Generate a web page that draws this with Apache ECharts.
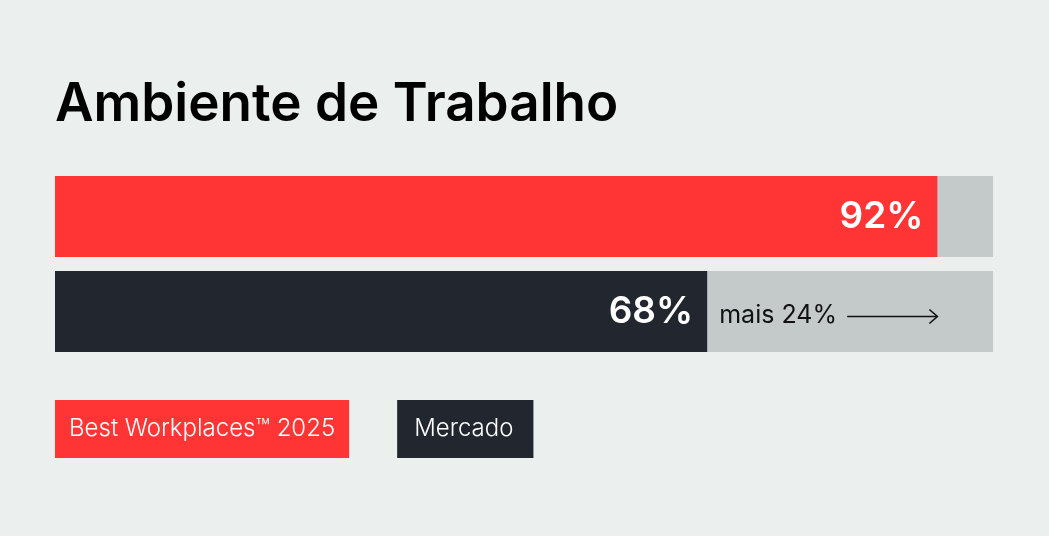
<!DOCTYPE html>
<html>
<head>
<meta charset="utf-8">
<script src="https://cdn.jsdelivr.net/npm/echarts@6/dist/echarts.min.js"></script>
<style>
  html, body { margin: 0; padding: 0; background: #ebefee; }
  #chart { width: 1049px; height: 536px; }
</style>
</head>
<body>
<div id="chart"></div>
<script>
var categories = ['Best Workplaces™ 2025', 'Mercado'];
var values = [92, 68];
var colors = ['#ff3535', '#22262e'];
var axisMax = 97.8;

var font = 'Inter';
var chart = echarts.init(document.getElementById('chart'));

function rowData(i) {
  return values.map(function (v, j) { return j === i ? v : '-'; });
}

var series = categories.map(function (name, i) {
  return {
    name: name,
    type: 'bar',
    stack: 'rows',
    data: rowData(i),
    barWidth: 81,
    itemStyle: { color: colors[i] },
    showBackground: true,
    backgroundStyle: { color: '#c3cac9' },
    label: {
      show: true,
      position: 'insideRight',
      distance: 14,
      formatter: '{c}%',
      color: '#ffffff',
      fontFamily: font,
      fontSize: 37,
      fontWeight: 600
    }
  };
});

// difference annotation: "mais 24%" + arrow up to the leader's bar end
series.push({
  type: 'custom',
  silent: true,
  z: 5,
  data: [[values[1], values[0], 1]],
  renderItem: function (params, api) {
    var a = api.coord([api.value(0), api.value(2)]);
    var b = api.coord([api.value(1), api.value(2)]);
    var y = a[1];
    var ly = y + 5;
    var x0 = a[0] + 140;
    var x1 = b[0];
    return {
      type: 'group',
      children: [
        {
          type: 'text',
          style: {
            x: a[0] + 12, y: y + 4,
            text: 'mais ' + (api.value(1) - api.value(0)) + '%',
            fill: '#111111',
            font: '400 25px ' + font,
            textVerticalAlign: 'middle'
          }
        },
        {
          type: 'line',
          shape: { x1: x0, y1: ly, x2: x1, y2: ly },
          style: { stroke: '#111111', lineWidth: 1.6 }
        },
        {
          type: 'polyline',
          shape: { points: [[x1 - 8, ly - 7], [x1, ly], [x1 - 8, ly + 7]] },
          style: { stroke: '#111111', lineWidth: 1.6, fill: null }
        }
      ]
    };
  }
});

var legendPadding = [[15, 14, 15, 14], [15, 20, 15, 17]];

chart.setOption({
  backgroundColor: '#ebefee',
  animation: false,
  title: {
    text: 'Ambiente de Trabalho',
    left: 50,
    top: 74,
    textStyle: { fontFamily: font, fontSize: 53, fontWeight: 600, color: '#000000' }
  },
  legend: {
    left: 45,
    top: 395,
    selectedMode: false,
    itemWidth: 0,
    itemHeight: 0,
    itemGap: 43,
    icon: 'rect',
    data: categories.map(function (name, i) {
      return {
        name: name,
        textStyle: {
          color: '#ffffff',
          fontFamily: font,
          fontSize: 24,
          fontWeight: 300,
          backgroundColor: colors[i],
          padding: legendPadding[i],
          lineHeight: 28
        }
      };
    })
  },
  grid: { left: 55, right: 56, top: 169, height: 190 },
  xAxis: { type: 'value', min: 0, max: axisMax, show: false },
  yAxis: {
    type: 'category',
    data: categories,
    inverse: true,
    show: false
  },
  series: series
});
</script>
</body>
</html>
